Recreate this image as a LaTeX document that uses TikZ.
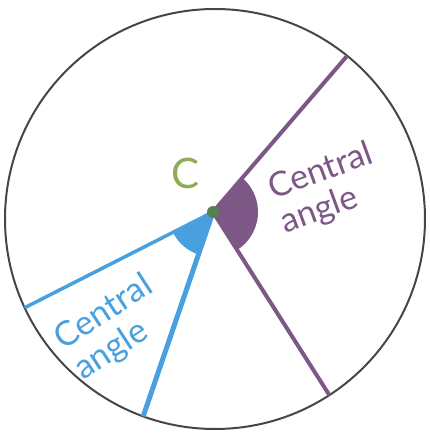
\documentclass[tikz,border=0pt]{standalone}
\usepackage{fontspec}
\setmainfont{Lato}
\usetikzlibrary{angles,quotes}
\definecolor{penpurple}{RGB}{125,88,135}
\definecolor{penblue}{RGB}{72,160,222}
\definecolor{pengreen}{RGB}{140,175,85}
\definecolor{pendot}{RGB}{85,130,85}
\definecolor{pengray}{RGB}{70,70,70}

\begin{document}
\begin{tikzpicture}[x=1pt,y=1pt,
  angletext/.style={font=\fontsize{34}{36}\selectfont,align=left,inner sep=0pt}]
\useasboundingbox (0,0) rectangle (430,434);
\node[circle,draw=pengray,line width=2pt,minimum size=420pt,inner sep=0pt,outer sep=0pt] (O) at (215,215) {};
\coordinate (C) at (213,222);
\coordinate (PU) at (O.51);
\coordinate (PD) at (O.-57);
\coordinate (BL) at (O.205);
\coordinate (BD) at (O.250);
% the two angles
\pic[fill=penpurple,angle radius=45pt] {angle=PD--C--PU};
\pic[fill=penblue,angle radius=45pt] {angle=BL--C--BD};
\draw[penpurple,line width=4pt] (C)--(PU);
\draw[penpurple,line width=4pt] (C)--(PD);
\draw[penblue,line width=3.5pt] (C)--(BL);
\draw[penblue,line width=5pt] (C)--(BD);
\node[circle,fill=pendot,minimum size=12pt,inner sep=0pt] (dot) at (C) {};
\node[text=pengreen,font=\fontsize{42}{42}\selectfont] (Cname) at (186,261) {C};
\node[angletext,text=penpurple,rotate=20] (Ptext) at (327,245) {Central\\angle};
\node[angletext,text=penblue,rotate=33] (Btext) at (114,106) {Central\\angle};
\end{tikzpicture}
\end{document}
